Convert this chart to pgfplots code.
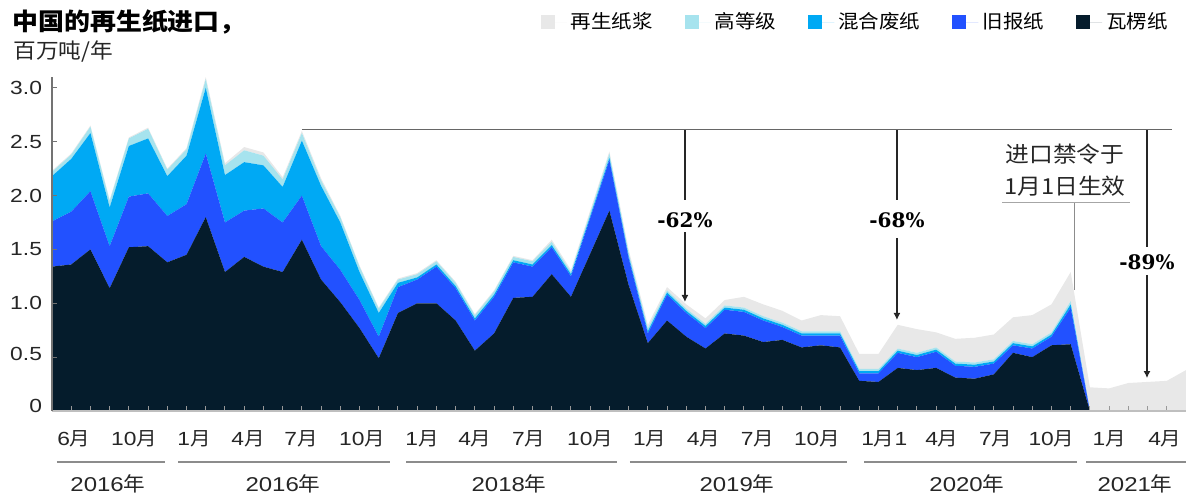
\documentclass[border=0pt]{standalone}
\usepackage{fontspec}
\setmainfont{Liberation Sans}[FakeStretch=1.2]
\newfontfamily\cjk{Noto Sans CJK SC}[FakeStretch=1.08]
\newfontfamily\serifb{DejaVu Serif}
\usepackage{pgfplots}
\pgfplotsset{compat=1.18}
\usepackage{pgfplotstable}
\usetikzlibrary{arrows.meta}

\definecolor{occ}{HTML}{051C2C}
\definecolor{onp}{HTML}{2251FF}
\definecolor{mix}{HTML}{00A9F4}
\definecolor{hg}{HTML}{A6E3EE}
\definecolor{pulp}{HTML}{E8E8E8}

\newcommand{\mo}[1]{#1{\cjk 月}}
\newcommand{\yr}[1]{#1{\cjk 年}}

% monthly imports, million t/yr; i=0 is the first month shown
\pgfplotstableread{
i  occ  onp  mix  hg   pulp
0  1.34 0.42 0.42 0.04 0.01
1  1.36 0.49 0.49 0.04 0.01
2  1.50 0.54 0.54 0.06 0.01
3  1.14 0.39 0.36 0.06 0.01
4  1.52 0.47 0.47 0.07 0.01
5  1.53 0.49 0.51 0.09 0.01
6  1.38 0.43 0.37 0.06 0.01
7  1.45 0.47 0.45 0.06 0.01
8  1.80 0.59 0.61 0.08 0.02
9  1.29 0.46 0.44 0.09 0.02
10 1.43 0.43 0.45 0.11 0.03
11 1.34 0.54 0.40 0.09 0.03
12 1.29 0.46 0.33 0.07 0.02
13 1.59 0.41 0.51 0.07 0.02
14 1.22 0.31 0.56 0.05 0.02
15 1.01 0.30 0.44 0.05 0.01
16 0.77 0.26 0.26 0.05 0.01
17 0.49 0.20 0.22 0.04 0.01
18 0.91 0.24 0.04 0.03 0.01
19 1.00 0.22 0.02 0.03 0.01
20 1.00 0.34 0.02 0.03 0.01
21 0.84 0.30 0.02 0.03 0.01
22 0.56 0.28 0.02 0.03 0.01
23 0.72 0.34 0.02 0.03 0.01
24 1.05 0.33 0.02 0.03 0.01
25 1.06 0.28 0.02 0.03 0.01
26 1.27 0.25 0.02 0.03 0.02
27 1.06 0.19 0.02 0.02 0.02
28 1.46 0.33 0.02 0.03 0.02
29 1.86 0.47 0.02 0.04 0.02
30 1.17 0.25 0.02 0.03 0.03
31 0.63 0.09 0.02 0.03 0.03
32 0.84 0.24 0.02 0.02 0.03
33 0.69 0.22 0.02 0.02 0.04
34 0.58 0.19 0.02 0.02 0.05
35 0.72 0.22 0.02 0.02 0.05
36 0.70 0.22 0.02 0.02 0.10
37 0.64 0.20 0.02 0.02 0.11
38 0.66 0.12 0.02 0.02 0.11
39 0.59 0.11 0.02 0.02 0.10
40 0.61 0.09 0.02 0.02 0.15
41 0.59 0.11 0.02 0.02 0.14
42 0.28 0.07 0.02 0.02 0.14
43 0.27 0.08 0.02 0.02 0.14
44 0.40 0.14 0.02 0.02 0.22
45 0.38 0.12 0.02 0.02 0.22
46 0.40 0.15 0.02 0.02 0.14
47 0.31 0.11 0.02 0.02 0.21
48 0.30 0.11 0.02 0.02 0.23
49 0.34 0.10 0.02 0.02 0.23
50 0.54 0.07 0.02 0.02 0.22
51 0.50 0.08 0.02 0.02 0.27
52 0.61 0.08 0.02 0.02 0.26
53 0.62 0.34 0.03 0.03 0.27
54 0    0    0    0    0.22
55 0    0    0    0    0.21
56 0    0    0    0    0.26
57 0    0    0    0    0.27
58 0    0    0    0    0.28
59 0    0    0    0    0.38
}\imports

\begin{document}
\begin{tikzpicture}
\useasboundingbox (-26pt,-42pt) rectangle (567pt,205.5pt);
\begin{axis}[
    scale only axis, width=567pt, height=167pt,
    xmin=0, xmax=59, ymin=0, ymax=3.1,
    stack plots=y,
    axis lines*=left,
    axis on top, clip=false,
    x axis line style={draw=black!25, line width=0.8pt},
    y axis line style={draw=black!55, line width=0.7pt},
    xtick={1.14,4.27,7.39,10.2,12.96,16.13,19.25,22.0,24.8,28.0,31.1,33.9,36.7,39.8,43.3,46.3,49.1,52.0,55.0,57.9},
    xticklabels={\mo{6},\mo{10},\mo{1},\mo{4},\mo{7},\mo{10},\mo{1},\mo{4},\mo{7},\mo{10},\mo{1},\mo{4},\mo{7},\mo{10},\mo{1}1,\mo{4},\mo{7},\mo{10},\mo{1},\mo{4}},
    minor xtick={0,1,...,59},
    ytick={0,0.5,1,1.5,2,2.5,3},
    yticklabels={\raisebox{5.5pt}{0},\raisebox{3.5pt}{0.5},1.0,1.5,2.0,2.5,3.0},
    tick align=inside,
    major tick length=2.5pt, minor tick length=2.5pt,
    major x tick style={draw=none},
    minor x tick style={draw=black!40, line width=0.5pt},
    major y tick style={draw=black!55, line width=0.6pt},
    xticklabel style={font=\fontsize{9.5}{11}\selectfont, anchor=base, yshift=-17pt, text=black!85},
    yticklabel style={font=\fontsize{9.5}{11}\selectfont, anchor=east, xshift=-1.5pt, text=black!85},
    reverse legend, legend columns=5,
    legend image code/.code={\fill[#1] (0pt,-3.5pt) rectangle (7pt,3.5pt); \path (0pt,0pt) -- (13pt,0pt);},
    legend style={at={(1,1)}, anchor=east, xshift=-4pt, yshift=27.5pt,
        draw=none, fill=none, font=\cjk\fontsize{9.5}{11}\selectfont,
        /tikz/every even column/.append style={column sep=14pt}},
]
\addplot[fill=occ, draw=none] table[x=i, y=occ] {\imports} \closedcycle;
\addlegendentry{瓦楞纸}
\addplot[fill=onp, draw=none] table[x=i, y=onp] {\imports} \closedcycle;
\addlegendentry{旧报纸}
\addplot[fill=mix, draw=none] table[x=i, y=mix] {\imports} \closedcycle;
\addlegendentry{混合废纸}
\addplot[fill=hg, draw=none] table[x=i, y=hg] {\imports} \closedcycle;
\addlegendentry{高等级}
\addplot[fill=pulp, draw=none] table[x=i, y=pulp] {\imports} \closedcycle;
\addlegendentry{再生纸浆}

% reference level and declines
\draw[black!60, line width=0.6pt] (axis cs:13.0,2.616) -- (axis cs:58.27,2.616);
\draw[black!85, line width=0.6pt] (axis cs:32.93,2.616) -- (axis cs:32.93,1.96);
\draw[black!85, line width=0.6pt, -{Latex[length=3.5pt,width=3.5pt]}] (axis cs:32.93,1.66) -- (axis cs:32.93,1.012);
\node[font=\serifb\bfseries\fontsize{10}{12}\selectfont] at (axis cs:32.93,1.774) {-62\%};
\draw[black!85, line width=0.6pt] (axis cs:43.96,2.616) -- (axis cs:43.96,1.96);
\draw[black!85, line width=0.6pt, -{Latex[length=3.5pt,width=3.5pt]}] (axis cs:43.96,1.607) -- (axis cs:43.96,0.845);
\node[font=\serifb\bfseries\fontsize{10}{12}\selectfont] at (axis cs:43.96,1.774) {-68\%};
\draw[black!85, line width=0.6pt] (axis cs:56.97,2.616) -- (axis cs:56.97,1.523);
\draw[black!85, line width=0.6pt, -{Latex[length=3.5pt,width=3.5pt]}] (axis cs:56.97,1.263) -- (axis cs:56.97,0.306);
\node[font=\serifb\bfseries\fontsize{10}{12}\selectfont] at (axis cs:56.97,1.384) {-89\%};

% ban note
\node[align=center, font=\cjk\fontsize{11}{16}\selectfont, text=black!85] at (axis cs:52.7,2.235) {进口禁令于\\1月1日生效};
\draw[black!35, line width=0.8pt] (axis cs:49.43,1.937) -- (axis cs:56.09,1.937);
\draw[black!45, line width=0.6pt] (axis cs:53.2,1.937) -- (axis cs:53.2,1.124);

% year groups
\draw[black!45, line width=0.7pt] ([yshift=-25.5pt]axis cs:0.26,0) -- ([yshift=-25.5pt]axis cs:5.88,0);
\draw[black!45, line width=0.7pt] ([yshift=-25.5pt]axis cs:6.56,0) -- ([yshift=-25.5pt]axis cs:17.59,0);
\draw[black!45, line width=0.7pt] ([yshift=-25.5pt]axis cs:18.42,0) -- ([yshift=-25.5pt]axis cs:29.4,0);
\draw[black!45, line width=0.7pt] ([yshift=-25.5pt]axis cs:30.07,0) -- ([yshift=-25.5pt]axis cs:41.36,0);
\draw[black!45, line width=0.7pt] ([yshift=-25.5pt]axis cs:42.25,0) -- ([yshift=-25.5pt]axis cs:53.33,0);
\draw[black!45, line width=0.7pt] ([yshift=-25.5pt]axis cs:53.8,0) -- ([yshift=-25.5pt]axis cs:59,0);
\node[anchor=base, font=\fontsize{10}{12}\selectfont, text=black!85] at ([yshift=-40pt]axis cs:2.91,0) {\yr{2016}};
\node[anchor=base, font=\fontsize{10}{12}\selectfont, text=black!85] at ([yshift=-40pt]axis cs:12.02,0) {\yr{2016}};
\node[anchor=base, font=\fontsize{10}{12}\selectfont, text=black!85] at ([yshift=-40pt]axis cs:23.78,0) {\yr{2018}};
\node[anchor=base, font=\fontsize{10}{12}\selectfont, text=black!85] at ([yshift=-40pt]axis cs:35.64,0) {\yr{2019}};
\node[anchor=base, font=\fontsize{10}{12}\selectfont, text=black!85] at ([yshift=-40pt]axis cs:47.6,0) {\yr{2020}};
\node[anchor=base, font=\fontsize{10}{12}\selectfont, text=black!85] at ([yshift=-40pt]axis cs:56.35,0) {\yr{2021}};
\end{axis}
\node[anchor=base west, inner sep=0pt, font=\cjk\bfseries\fontsize{12}{14}\selectfont] at (-20pt,190.5pt) {中国的再生纸进口，};
\node[anchor=base west, inner sep=0pt, font=\cjk\fontsize{10.5}{12}\selectfont, text=black!85] at (-19.5pt,176.25pt) {百万吨/年};
\end{tikzpicture}
\end{document}
